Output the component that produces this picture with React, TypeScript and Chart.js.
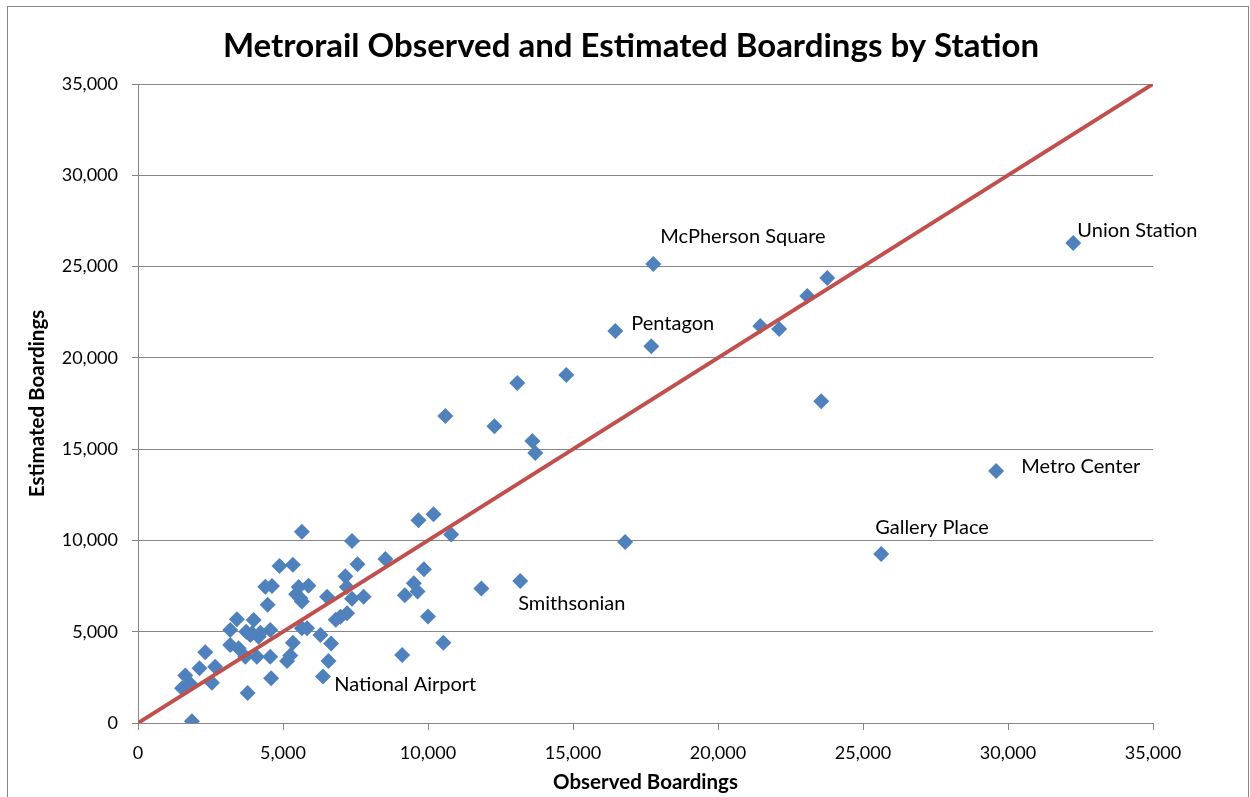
import React, { useEffect, useRef } from "react";
import { Chart, registerables } from "chart.js";

Chart.register(...registerables);

const observed: number[] = [
  1520, 1800, 1630, 1860, 2120, 2320, 2550, 2660, 3180, 3180,
  3410, 3470, 3700, 3730, 3780, 3870, 3990, 4100, 4160, 4390,
  4470, 4560, 4560, 4590, 4620, 4880, 5140, 5250, 5340, 5340,
  5540, 5450, 5650, 5650, 5650, 5830, 5880, 6290, 6380, 6520,
  6570, 6660, 6820, 6980, 7210, 7150, 7200, 7380, 7380, 7570,
  7780, 8530, 9110, 9200, 9510, 9640, 9670, 9860, 10000, 10190,
  10530, 10600, 10800, 11840, 12290, 13080, 13180, 13600, 13700, 14770,
  16460, 16800, 17700, 17770, 21460, 22110, 23080, 23560, 23770, 25630,
  29590, 32250, 3930, 4220, 5600,
];
const estimated: number[] = [
  1900, 2150, 2600, 100, 3000, 3880, 2200, 3080, 5100, 4270,
  5680, 4090, 3630, 5000, 1650, 4820, 5640, 3630, 4730, 7460,
  6480, 5090, 3630, 2450, 7500, 8600, 3400, 3700, 8670, 4400,
  7450, 7050, 6650, 10480, 5190, 5190, 7520, 4820, 2550, 6920,
  3400, 4360, 5650, 5820, 6010, 8040, 7450, 9970, 6800, 8700,
  6920, 8980, 3720, 7000, 7650, 7200, 11110, 8420, 5840, 11440,
  4400, 16810, 10320, 7370, 16260, 18620, 7780, 15440, 14790, 19060,
  21470, 9910, 20640, 25140, 21740, 21580, 23390, 17630, 24370, 9250,
  13800, 26290, 4910, 4950, 6830,
];

const fitX: number[] = [0, 35000];
const fitY: number[] = [0, 35000];

const labelNames: string[] = [
  "Union Station",
  "McPherson Square",
  "Pentagon",
  "Metro Center",
  "Gallery Place",
  "Smithsonian",
  "National Airport",
];
const labelX: number[] = [32390, 18010, 17010, 30460, 25420, 13110, 6770];
const labelY: number[] = [27000, 26670, 21900, 14020, 10730, 6520, 2080];

const titleText = "Metrorail Observed and Estimated Boardings by Station";
const xTitle = "Observed Boardings";
const yTitle = "Estimated Boardings";

const FONT = "Lato, 'Open Sans', sans-serif";
const GRID = "#868686";

export default function App() {
  const ref = useRef<HTMLCanvasElement | null>(null);

  useEffect(() => {
    if (!ref.current) return;
    const decor = {
      id: "decor",
      afterDraw(chart: any) {
        const ctx = chart.ctx;
        const xs = chart.scales.x;
        const ys = chart.scales.y;
        const area = chart.chartArea;
        ctx.save();
        // outer border
        ctx.strokeStyle = GRID;
        ctx.lineWidth = 1;
        ctx.strokeRect(7.5, 6.5, 1241, 800);
        // title
        ctx.fillStyle = "#000";
        ctx.font = `bold 33px ${FONT}`;
        ctx.textAlign = "center";
        ctx.textBaseline = "middle";
        ctx.fillText(titleText, 631, 46);
        // axis titles
        ctx.font = `bold 20.5px ${FONT}`;
        ctx.fillText(xTitle, (area.left + area.right) / 2, 782);
        ctx.save();
        ctx.translate(37, (area.top + area.bottom) / 2);
        ctx.rotate(-Math.PI / 2);
        ctx.fillText(yTitle, 0, 0);
        ctx.restore();
        // point labels
        ctx.font = `20px ${FONT}`;
        ctx.textAlign = "left";
        for (let i = 0; i < labelNames.length; i++) {
          ctx.fillText(
            labelNames[i],
            xs.getPixelForValue(labelX[i]),
            ys.getPixelForValue(labelY[i])
          );
        }
        ctx.restore();
      },
    };

    const chart = new Chart(ref.current, {
      type: "scatter",
      data: {
        datasets: [
          {
            type: "line",
            label: "Fit",
            data: fitX.map((x, i) => ({ x, y: fitY[i] })),
            borderColor: "#C0504D",
            borderWidth: 4,
            pointRadius: 0,
            fill: false,
          } as any,
          {
            label: "Stations",
            data: observed.map((x, i) => ({ x, y: estimated[i] })),
            pointStyle: "rectRot",
            pointRadius: 8,
            pointBackgroundColor: "#4F81BD",
            pointBorderColor: "#4A7EBB",
            pointBorderWidth: 0,
          },
        ],
      },
      options: {
        responsive: false,
        animation: false,
        layout: { padding: { top: 84, left: 0, right: 97, bottom: 0 } },
        plugins: {
          legend: { display: false },
          title: { display: false },
          tooltip: { enabled: false },
        },
        scales: {
          x: {
            type: "linear",
            min: 0,
            max: 35000,
            ticks: {
              stepSize: 5000,
              color: "#000",
              font: { family: FONT, size: 18 },
              padding: 12,
              maxRotation: 0,
              callback: (v: any) => Number(v).toLocaleString("en-US"),
            },
            grid: {
              drawOnChartArea: false,
              drawTicks: true,
              tickLength: 7,
              color: GRID,
            },
            border: { display: true, color: GRID, width: 1 },
            afterFit: (s: any) => {
              s.height = 74;
            },
          },
          y: {
            type: "linear",
            min: 0,
            max: 35000,
            ticks: {
              stepSize: 5000,
              color: "#000",
              font: { family: FONT, size: 18 },
              padding: 14,
              callback: (v: any) => Number(v).toLocaleString("en-US"),
            },
            grid: {
              drawOnChartArea: true,
              drawTicks: true,
              tickLength: 6,
              color: GRID,
            },
            border: { display: true, color: GRID, width: 1 },
            afterFit: (s: any) => {
              s.width = 138;
            },
          },
        },
      },
      plugins: [decor],
    } as any);

    return () => chart.destroy();
  }, []);

  return (
    <div style={{ position: "fixed", top: 0, left: 0, width: 1250, height: 797, background: "#fff" }}>
      <canvas ref={ref} width={1250} height={797} />
    </div>
  );
}
